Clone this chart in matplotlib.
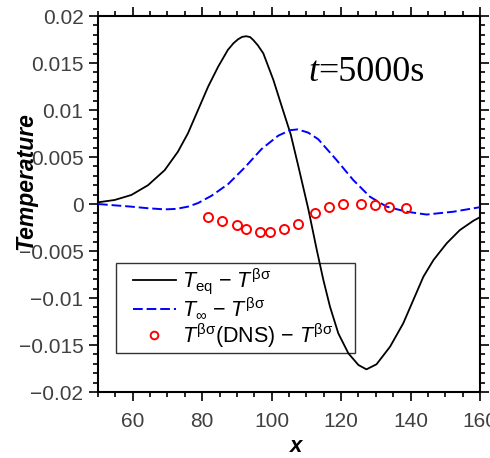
import matplotlib.pyplot as plt
from matplotlib.patches import Rectangle
from matplotlib.ticker import MultipleLocator, FuncFormatter

# values
x_eq = [50, 54.8, 59.6, 64.4, 69.2, 73.0, 75.9, 78.8, 81.7, 84.6, 87.4, 89.0, 90.3,
        91.5, 92.7, 93.8, 94.7, 96.0, 97.6, 100.5, 102.9, 105.5, 107.7, 110.6, 113.0,
        114.9, 116.8, 119.2, 122.1, 125.0, 127.3, 130.2, 134.1, 137.9, 140.8, 143.7,
        146.6, 150.4, 154.2, 158.1, 160]
t_eq = [0.00018, 0.00043, 0.00096, 0.0020, 0.0036, 0.00556, 0.00752, 0.0100, 0.01248,
        0.01461, 0.0164, 0.0171, 0.01752, 0.01778, 0.01785, 0.01776, 0.01745, 0.0169,
        0.01603, 0.0132, 0.0104, 0.0074, 0.0040, -0.0006, -0.00489, -0.00809, -0.01092,
        -0.01376, -0.01589, -0.01713, -0.01759, -0.01705, -0.01518, -0.01269, -0.01021,
        -0.00773, -0.00596, -0.00418, -0.00277, -0.00178, -0.0014]

x_inf = [50, 54.8, 59.6, 64.4, 69.2, 72.5, 75.9, 78.8, 82.7, 87.5, 92.3, 97.1, 101.9,
         105.3, 107.5, 110.5, 113.4, 118.7, 123.5, 128.3, 133.1, 138.9, 144.6, 152.3,
         159.8, 160]
t_inf = [0.0, -0.00014, -0.00028, -0.00045, -0.00057, -0.00052, -0.00028, 0.0001,
         0.00088, 0.00213, 0.0039, 0.00585, 0.00727, 0.00785, 0.00794, 0.0076, 0.0069,
         0.00468, 0.00255, 0.00078, -0.00028, -0.00082, -0.00112, -0.00082, -0.00035,
         -0.00033]

x_dns = [81.8, 85.8, 89.9, 92.6, 96.6, 99.5, 103.7, 107.6, 112.5, 116.5, 120.5, 125.6,
         129.8, 133.7, 138.7]
t_dns = [-0.00135, -0.00178, -0.00223, -0.00263, -0.00295, -0.00301, -0.00269, -0.0021,
         -0.00099, -0.00032, 0.0, 0.0, -0.00007, -0.00035, -0.00046]

plt.rcParams['font.family'] = ['Liberation Sans', 'DejaVu Sans']
plt.rcParams['mathtext.fontset'] = 'custom'
plt.rcParams['mathtext.rm'] = 'Liberation Sans'
plt.rcParams['mathtext.it'] = 'Liberation Sans:italic'
plt.rcParams['mathtext.bf'] = 'Liberation Sans:bold'

fig = plt.figure(figsize=(4.9, 4.58), dpi=100)
ax = fig.add_axes([0.2, 0.1441, 0.7796, 0.8209])

ax.plot(x_eq, t_eq, color='black', lw=1.3, zorder=5,
        label=r'$T_{\mathrm{eq}}$ $-$ $T^{\mathrm{\beta\sigma}}$')
ax.plot(x_inf, t_inf, color='#0000ff', lw=1.4, ls=(0, (5, 2)), zorder=5,
        label=r'$T_{\infty}$ $-$ $T^{\mathrm{\beta\sigma}}$')
ax.plot(x_dns, t_dns, ls='none', marker='o', ms=6.5, mfc='none', mec='red', mew=1.4,
        zorder=5, label=r'$T^{\mathrm{\beta\sigma}}$(DNS) $-$ $T^{\mathrm{\beta\sigma}}$')

ax.set_xlim(50, 160)
ax.set_ylim(-0.02, 0.02)
ax.xaxis.set_major_locator(MultipleLocator(20))
ax.xaxis.set_minor_locator(MultipleLocator(5))
ax.yaxis.set_major_locator(MultipleLocator(0.005))
ax.yaxis.set_minor_locator(MultipleLocator(0.001))
ax.yaxis.set_major_formatter(FuncFormatter(lambda v, p: f"{round(v, 4):g}".replace('-', '\u2212')))

for s in ax.spines.values():
    s.set_linewidth(1.5)
ax.tick_params(which='both', direction='out', top=True, right=True, width=1.2,
               labelsize=15, labelcolor='#404040')
ax.tick_params(which='major', length=6.5)
ax.tick_params(which='minor', length=3.6)
ax.tick_params(axis='y', which='major', pad=4)
ax.tick_params(axis='x', which='major', pad=8)

ax.set_ylabel('Temperature', fontsize=16.5, fontweight='bold', fontstyle='italic')
ax.yaxis.set_label_coords(-0.16, 0.561)
ax.set_xlabel('x', fontsize=16, fontweight='bold', fontstyle='italic')
ax.xaxis.set_label_coords(0.518, -0.118)

ax.text(113.4, 0.0140, 't', fontsize=26, family='Liberation Serif', style='italic',
        ha='right', va='center')
ax.text(113.4, 0.0140, '=5000s', fontsize=26, family='Liberation Serif',
        ha='left', va='center')

# legend box drawn separately so its padding matches the original
box_x, box_y, box_w, box_h = 0.047, 0.104, 0.626, 0.239
ax.add_patch(Rectangle((box_x, box_y), box_w, box_h, transform=ax.transAxes,
                       fill=False, ec='#333333', lw=1.0, zorder=2))
leg = ax.legend(loc='center left', bbox_to_anchor=(box_x, box_y + box_h / 2),
                borderaxespad=0, fontsize=15.5, frameon=False,
                handlelength=2.0, handletextpad=0.28, labelspacing=0.0,
                markerscale=0.85, borderpad=0.78)
leg.set_zorder(2)

fig.savefig('out.png', dpi=100)
